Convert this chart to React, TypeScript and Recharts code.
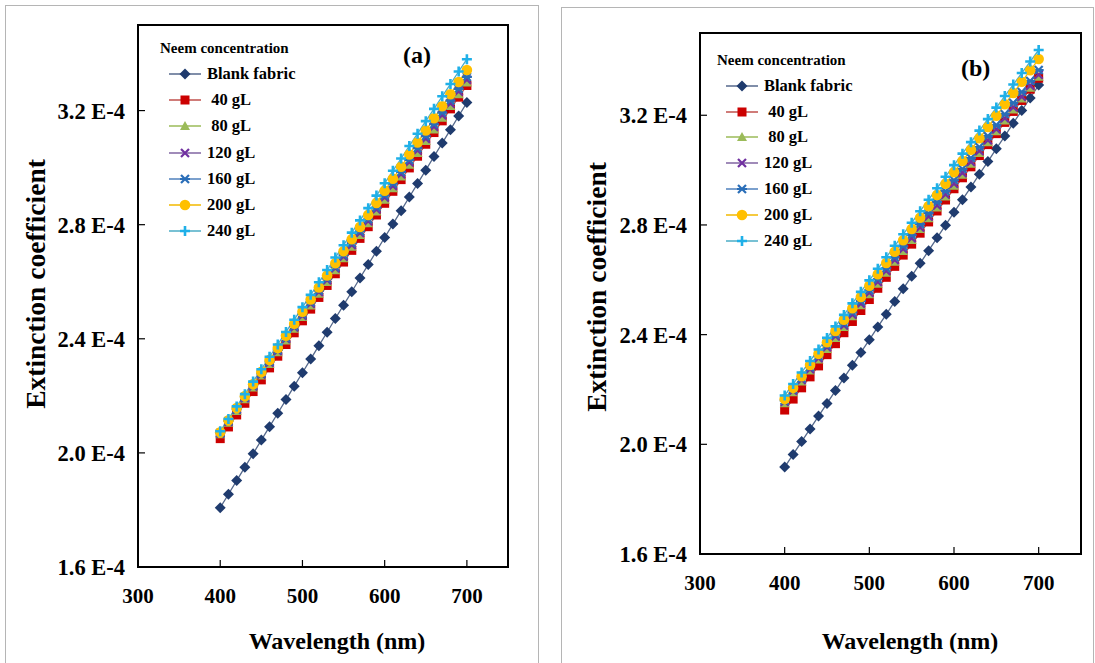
import React from 'react';
import { LineChart, Line, XAxis, YAxis, ReferenceArea, Legend, Label } from 'recharts';

const FONT = '"Liberation Serif", "Times New Roman", serif';

// wavelength (nm), one point every 10 nm
const wavelengths = [
  400, 410, 420, 430, 440, 450, 460, 470, 480, 490, 500, 510, 520, 530, 540, 550,
  560, 570, 580, 590, 600, 610, 620, 630, 640, 650, 660, 670, 680, 690, 700,
];

// panel (a) — extinction coefficient in units of 1E-4
const blankA = [1.808, 1.855, 1.903, 1.950, 1.997, 2.045, 2.092, 2.139, 2.187, 2.234, 2.281, 2.329, 2.376, 2.423, 2.471, 2.518, 2.565, 2.613, 2.660, 2.707, 2.755, 2.802, 2.849, 2.897, 2.944, 2.991, 3.039, 3.086, 3.133, 3.181, 3.228];
const g40A = [2.050, 2.091, 2.133, 2.174, 2.215, 2.256, 2.298, 2.339, 2.380, 2.421, 2.463, 2.504, 2.545, 2.587, 2.628, 2.669, 2.710, 2.752, 2.793, 2.834, 2.875, 2.917, 2.958, 2.999, 3.040, 3.082, 3.123, 3.164, 3.206, 3.247, 3.288];
const g80A = [2.065, 2.106, 2.147, 2.188, 2.229, 2.271, 2.312, 2.353, 2.394, 2.435, 2.476, 2.517, 2.558, 2.599, 2.640, 2.682, 2.723, 2.764, 2.805, 2.846, 2.887, 2.928, 2.969, 3.010, 3.051, 3.093, 3.134, 3.175, 3.216, 3.257, 3.298];
const g120A = [2.068, 2.109, 2.151, 2.192, 2.233, 2.275, 2.316, 2.357, 2.399, 2.440, 2.481, 2.523, 2.564, 2.605, 2.647, 2.688, 2.729, 2.771, 2.812, 2.853, 2.895, 2.936, 2.977, 3.019, 3.060, 3.101, 3.143, 3.184, 3.225, 3.267, 3.308];
const g160A = [2.070, 2.112, 2.153, 2.195, 2.236, 2.278, 2.320, 2.361, 2.403, 2.444, 2.486, 2.528, 2.569, 2.611, 2.652, 2.694, 2.736, 2.777, 2.819, 2.860, 2.902, 2.944, 2.985, 3.027, 3.068, 3.110, 3.152, 3.193, 3.235, 3.276, 3.318];
const g200A = [2.072, 2.114, 2.157, 2.199, 2.241, 2.284, 2.326, 2.368, 2.411, 2.453, 2.495, 2.538, 2.580, 2.622, 2.665, 2.707, 2.749, 2.792, 2.834, 2.876, 2.919, 2.961, 3.003, 3.046, 3.088, 3.130, 3.173, 3.215, 3.257, 3.300, 3.342];
const g240A = [2.076, 2.119, 2.163, 2.206, 2.250, 2.293, 2.337, 2.380, 2.424, 2.467, 2.511, 2.554, 2.598, 2.641, 2.685, 2.728, 2.772, 2.815, 2.858, 2.902, 2.945, 2.989, 3.032, 3.076, 3.119, 3.163, 3.206, 3.250, 3.293, 3.337, 3.380];

// panel (b)
const blankB = [1.917, 1.963, 2.010, 2.056, 2.103, 2.149, 2.196, 2.242, 2.288, 2.335, 2.381, 2.428, 2.474, 2.521, 2.567, 2.613, 2.660, 2.706, 2.753, 2.799, 2.846, 2.892, 2.938, 2.985, 3.031, 3.078, 3.124, 3.171, 3.217, 3.263, 3.310];
const g40B = [2.125, 2.165, 2.206, 2.246, 2.286, 2.327, 2.367, 2.407, 2.448, 2.488, 2.528, 2.569, 2.609, 2.649, 2.690, 2.730, 2.770, 2.811, 2.851, 2.891, 2.932, 2.972, 3.012, 3.053, 3.093, 3.133, 3.174, 3.214, 3.254, 3.295, 3.335];
const g80B = [2.150, 2.190, 2.229, 2.269, 2.309, 2.348, 2.388, 2.428, 2.467, 2.507, 2.547, 2.586, 2.626, 2.666, 2.705, 2.745, 2.785, 2.824, 2.864, 2.904, 2.943, 2.983, 3.023, 3.062, 3.102, 3.142, 3.181, 3.221, 3.261, 3.300, 3.340];
const g120B = [2.155, 2.195, 2.235, 2.274, 2.314, 2.354, 2.394, 2.433, 2.473, 2.513, 2.553, 2.592, 2.632, 2.672, 2.712, 2.752, 2.791, 2.831, 2.871, 2.911, 2.950, 2.990, 3.030, 3.070, 3.109, 3.149, 3.189, 3.229, 3.268, 3.308, 3.348];
const g160B = [2.160, 2.200, 2.240, 2.281, 2.321, 2.361, 2.401, 2.441, 2.481, 2.522, 2.562, 2.602, 2.642, 2.682, 2.722, 2.763, 2.803, 2.843, 2.883, 2.923, 2.963, 3.004, 3.044, 3.084, 3.124, 3.164, 3.204, 3.245, 3.285, 3.325, 3.365];
const g200B = [2.165, 2.206, 2.248, 2.289, 2.330, 2.372, 2.413, 2.454, 2.496, 2.537, 2.578, 2.620, 2.661, 2.702, 2.744, 2.785, 2.826, 2.868, 2.909, 2.950, 2.992, 3.033, 3.074, 3.116, 3.157, 3.198, 3.240, 3.281, 3.322, 3.364, 3.405];
const g240B = [2.178, 2.220, 2.262, 2.304, 2.346, 2.388, 2.430, 2.472, 2.514, 2.556, 2.598, 2.640, 2.682, 2.724, 2.766, 2.808, 2.850, 2.892, 2.934, 2.976, 3.018, 3.060, 3.102, 3.144, 3.186, 3.228, 3.270, 3.312, 3.354, 3.396, 3.438];

const seriesKeys = ['blank', 'g40', 'g80', 'g120', 'g160', 'g200', 'g240'];
const seriesNames = ['Blank fabric', ' 40 gL', ' 80 gL', '120 gL', '160 gL', '200 gL', '240 gL'];
const markerShapes = ['diamond', 'square', 'triangle', 'cross', 'star', 'circle', 'plus'];
const markerColors = ['#1F3B6E', '#CC0000', '#9BBB59', '#7030A0', '#2A6EB8', '#FFC000', '#1FB0E8'];
const lineColors = ['#56698C', '#C0504D', '#9BBB59', '#8064A2', '#4F81BD', '#F2B800', '#4BACC6'];

const xTicks = [300, 400, 500, 600, 700];
const yTicks = [1.6, 2.0, 2.4, 2.8, 3.2];

const Marker = ({ shape, cx, cy, color }: { shape: string; cx: number; cy: number; color: string }) => {
  switch (shape) {
    case 'diamond':
      return <polygon points={`${cx},${cy - 5.5} ${cx + 5.5},${cy} ${cx},${cy + 5.5} ${cx - 5.5},${cy}`} fill={color} />;
    case 'square':
      return <rect x={cx - 4.5} y={cy - 4.5} width={9} height={9} fill={color} />;
    case 'triangle':
      return <polygon points={`${cx},${cy - 5} ${cx + 5},${cy + 4} ${cx - 5},${cy + 4}`} fill={color} />;
    case 'cross':
      return <path d={`M${cx - 4},${cy - 4}L${cx + 4},${cy + 4}M${cx + 4},${cy - 4}L${cx - 4},${cy + 4}`} stroke={color} strokeWidth={2.2} />;
    case 'star':
      return (
        <path
          d={`M${cx - 4},${cy - 4}L${cx + 4},${cy + 4}M${cx + 4},${cy - 4}L${cx - 4},${cy + 4}M${cx - 5},${cy}L${cx + 5},${cy}`}
          stroke={color}
          strokeWidth={2.2}
        />
      );
    case 'circle':
      return <circle cx={cx} cy={cy} r={5.3} fill={color} />;
    default:
      return <path d={`M${cx - 5},${cy}L${cx + 5},${cy}M${cx},${cy - 5}L${cx},${cy + 5}`} stroke={color} strokeWidth={2.6} />;
  }
};

type PanelProps = {
  series: number[][];
  pageLeft: number;
  width: number;
  margin: { top: number; right: number; bottom: number; left: number };
  yAxisWidth: number;
  yTitle: { x: number; y: number };
  xTitle: { x: number; y: number };
  legendPos: { left: number; top: number; gap: number };
};

const Panel = ({ series, pageLeft, width, margin, yAxisWidth, yTitle, xTitle, legendPos }: PanelProps) => {
  const rows = wavelengths.map((wl, i) => {
    const row: Record<string, number> = { wl };
    seriesKeys.forEach((k, j) => {
      row[k] = series[j][i];
    });
    return row;
  });

  const xTickStyle = { fontSize: 21, fontWeight: 'bold', fill: '#000', fontFamily: FONT };
  const yTickStyle = { fontSize: 22.5, fontWeight: 'bold', fill: '#000', fontFamily: FONT };

  const renderLegend = () => (
    <div style={{ fontFamily: FONT, fontWeight: 'bold', color: '#000', textAlign: 'left' }}>
      <div style={{ fontSize: 15, lineHeight: '18px', marginBottom: 4 }}>Neem concentration</div>
      {seriesNames.map((name, j) => (
        <div key={name} style={{ display: 'flex', alignItems: 'center', height: legendPos.gap, marginLeft: 8 }}>
          <svg width={34} height={14}>
            <line x1={1} y1={7} x2={33} y2={7} stroke={lineColors[j]} strokeWidth={1.5} />
            <Marker shape={markerShapes[j]} cx={17} cy={7} color={markerColors[j]} />
          </svg>
          <span style={{ fontSize: 16.5, whiteSpace: 'pre', marginLeft: 5 }}>{name}</span>
        </div>
      ))}
    </div>
  );

  return (
    <div style={{ position: 'absolute', left: pageLeft, top: 0 }}>
      <LineChart width={width} height={663} data={rows} margin={margin}>
        <XAxis
          dataKey="wl"
          type="number"
          domain={[300, 750]}
          ticks={xTicks}
          allowDataOverflow
          height={60}
          tickSize={-7}
          tickMargin={28}
          tick={xTickStyle}
          axisLine={{ stroke: '#000', strokeWidth: 1.5 }}
          tickLine={{ stroke: '#000', strokeWidth: 1.2 }}
        >
          <Label
            content={() => (
              <text x={xTitle.x} y={xTitle.y} textAnchor="middle" fontFamily={FONT} fontWeight="bold" fontSize={24} fill="#000">
                Wavelength (nm)
              </text>
            )}
          />
        </XAxis>
        <YAxis
          type="number"
          domain={[1.6, 3.5]}
          ticks={yTicks}
          allowDataOverflow
          width={yAxisWidth}
          tickSize={-7}
          tickMargin={20}
          tick={yTickStyle}
          tickFormatter={(v: number) => `${v.toFixed(1)} E-4`}
          axisLine={{ stroke: '#000', strokeWidth: 1.5 }}
          tickLine={{ stroke: '#000', strokeWidth: 1.2 }}
        >
          <Label
            content={() => (
              <text
                x={yTitle.x}
                y={yTitle.y}
                transform={`rotate(-90 ${yTitle.x} ${yTitle.y})`}
                textAnchor="middle"
                dominantBaseline="central"
                fontFamily={FONT}
                fontWeight="bold"
                fontSize={27.5}
                fill="#000"
              >
                Extinction coefficient
              </text>
            )}
          />
        </YAxis>
        <ReferenceArea x1={300} x2={750} y1={1.6} y2={3.5} fill="none" stroke="#000" strokeWidth={2} />
        <Legend
          layout="vertical"
          align="center"
          verticalAlign="middle"
          content={renderLegend}
          wrapperStyle={{ left: legendPos.left, top: legendPos.top, width: 180, height: 'auto' }}
        />
        {seriesKeys.map((k, j) => (
          <Line
            key={k}
            dataKey={k}
            name={seriesNames[j]}
            stroke={lineColors[j]}
            strokeWidth={1.3}
            isAnimationActive={false}
            dot={(p: any) => (
              <g key={`${k}-${p.index}`}>
                <Marker shape={markerShapes[j]} cx={p.cx} cy={p.cy} color={markerColors[j]} />
              </g>
            )}
            activeDot={false}
          />
        ))}
      </LineChart>
    </div>
  );
};

const tagStyle: React.CSSProperties = {
  position: 'absolute',
  fontFamily: FONT,
  fontWeight: 'bold',
  fontSize: 24,
  color: '#000',
  lineHeight: '28px',
};

const App = () => (
  <div style={{ position: 'absolute', left: 0, top: 0, width: 1095, height: 663, overflow: 'hidden', background: '#fff' }}>
    <div style={{ position: 'absolute', left: 5, top: 5, width: 532, height: 680, border: '1.5px solid #b5b5b5' }} />
    <div style={{ position: 'absolute', left: 561, top: 7, width: 531, height: 680, border: '1.5px solid #b5b5b5' }} />
    <Panel
      series={[blankA, g40A, g80A, g120A, g160A, g200A, g240A]}
      pageLeft={0}
      width={540}
      margin={{ top: 25, right: 32, bottom: 36, left: 0 }}
      yAxisWidth={138}
      yTitle={{ x: 35, y: 284 }}
      xTitle={{ x: 337, y: 649 }}
      legendPos={{ left: 160, top: 39, gap: 26.2 }}
    />
    <Panel
      series={[blankB, g40B, g80B, g120B, g160B, g200B, g240B]}
      pageLeft={545}
      width={550}
      margin={{ top: 33, right: 14, bottom: 49, left: 0 }}
      yAxisWidth={155}
      yTitle={{ x: 51, y: 287 }}
      xTitle={{ x: 365, y: 649 }}
      legendPos={{ left: 172, top: 51, gap: 25.8 }}
    />
    <div style={{ ...tagStyle, left: 403, top: 41 }}>(a)</div>
    <div style={{ ...tagStyle, left: 961, top: 54 }}>(b)</div>
  </div>
);

export default App;
